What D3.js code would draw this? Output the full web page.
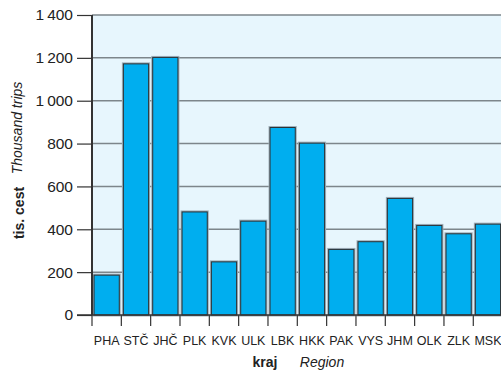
<!DOCTYPE html>
<html><head><meta charset="utf-8">
<script src="https://cdn.jsdelivr.net/npm/d3@7"></script>
<style>
html,body{margin:0;padding:0;background:#fff;overflow:hidden}
svg{display:block;font-family:"Liberation Sans",Arial,Helvetica,sans-serif}
</style></head>
<body>
<svg id="c" width="501" height="371"></svg>
<script>
const categories = ["PHA","STČ","JHČ","PLK","KVK","ULK","LBK","HKK","PAK","VYS","JHM","OLK","ZLK","MSK"];
const values = [186, 1172, 1202, 481, 248, 438, 875, 802, 306, 342, 544, 418, 379, 424];
const yTicks = [0, 200, 400, 600, 800, 1000, 1200, 1400];
const yTitle = ["tis. cest", "Thousand trips"];
const xTitle = ["kraj", "Region"];

const svg = d3.select("#c");
const pL = 92, pT = 15, pB = 315, pR = 92 + 14 * 29.33;

const y = d3.scaleLinear().domain([0, 1400]).range([pB, pT]);
const xb = d3.scaleBand().domain(categories).range([pL, pR]).paddingInner(0.14).paddingOuter(0.07);
const x0 = d3.scaleBand().domain(categories).range([pL, pR]).padding(0);

// plot background
svg.append("rect").attr("x", pL).attr("y", pT).attr("width", pR - pL).attr("height", pB - pT).attr("fill", "#e7f6fd");

// gridlines
svg.append("g").selectAll("line").data(yTicks.filter(d => d > 0)).join("line")
  .attr("x1", pL).attr("x2", pR).attr("y1", d => y(d)).attr("y2", d => y(d))
  .attr("stroke", "#7d868b").attr("stroke-width", 1.5);

// bars: halo then bar
const bars = svg.append("g");
bars.selectAll("rect.h").data(values).join("rect").attr("class", "h")
  .attr("x", (d, i) => xb(categories[i])).attr("y", d => y(d))
  .attr("width", xb.bandwidth()).attr("height", d => pB - y(d))
  .attr("fill", "none").attr("stroke", "#9fb0ba").attr("stroke-width", 3);
bars.selectAll("rect.b").data(values).join("rect").attr("class", "b")
  .attr("x", (d, i) => xb(categories[i])).attr("y", d => y(d))
  .attr("width", xb.bandwidth()).attr("height", d => pB - y(d))
  .attr("fill", "#00aeef").attr("stroke", "#2b3236").attr("stroke-width", 1);

// y axis
const yAxis = d3.axisLeft(y).tickValues(yTicks).tickSize(15).tickPadding(4)
  .tickFormat(d => d3.format(",")(d).replace(",", "\u2009"));
const gy = svg.append("g").attr("transform", `translate(${pL},0)`).call(yAxis);
gy.select(".domain").remove();
gy.selectAll(".tick line").attr("stroke", "#333").attr("stroke-width", 1.2);
gy.selectAll(".tick text").attr("font-size", 15.5).attr("fill", "#222")
  .attr("font-family", "Liberation Sans, Arial, sans-serif");

// x axis ticks at band boundaries
const gx = svg.append("g");
gx.selectAll("line").data(categories).join("line")
  .attr("x1", d => x0(d)).attr("x2", d => x0(d)).attr("y1", pB).attr("y2", pB + 11)
  .attr("stroke", "#333").attr("stroke-width", 1.2);
gx.selectAll("text").data(categories).join("text")
  .attr("x", d => x0(d) + x0.bandwidth() / 2).attr("y", 345)
  .attr("text-anchor", "middle").attr("font-size", 12.5).attr("fill", "#222").text(d => d);

// axis lines
svg.append("line").attr("x1", pL).attr("x2", pL).attr("y1", pT).attr("y2", pB)
  .attr("stroke", "#333").attr("stroke-width", 2);
svg.append("line").attr("x1", pL - 15).attr("x2", pR).attr("y1", pB).attr("y2", pB)
  .attr("stroke", "#333").attr("stroke-width", 1.5);

// y title
svg.append("text").attr("transform", "translate(24,213) rotate(-90)").attr("text-anchor", "middle")
  .attr("font-size", 14).attr("font-weight", "bold").attr("fill", "#222").text(yTitle[0]);
svg.append("text").attr("transform", "translate(22,128) rotate(-90)").attr("text-anchor", "middle")
  .attr("font-size", 14).attr("font-style", "italic").attr("fill", "#222").text(yTitle[1]);

// x title
svg.append("text").attr("x", 265).attr("y", 367).attr("text-anchor", "middle")
  .attr("font-size", 14).attr("font-weight", "bold").attr("fill", "#222").text(xTitle[0]);
svg.append("text").attr("x", 322).attr("y", 367).attr("text-anchor", "middle")
  .attr("font-size", 14).attr("font-style", "italic").attr("fill", "#222").text(xTitle[1]);
</script>
</body></html>
